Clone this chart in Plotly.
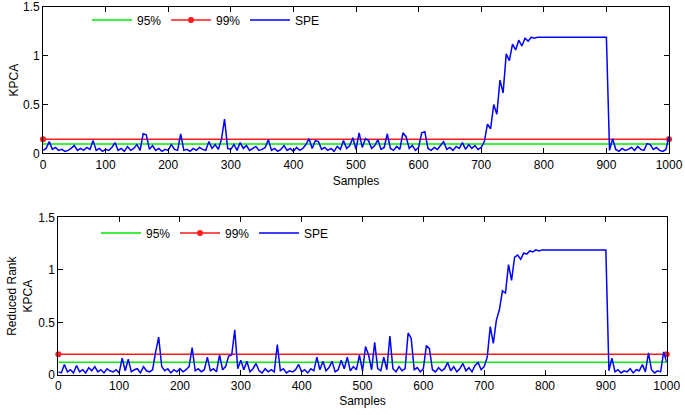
import plotly.graph_objects as go

# ---------------- data ----------------
samples = list(range(0, 1001, 5))

spe_kpca = [
    # 0-95
    0.03, 0.05, 0.12, 0.04, 0.06, 0.03, 0.04, 0.02, 0.03, 0.05, 0.08, 0.03, 0.05, 0.03, 0.06, 0.04, 0.13, 0.03, 0.05, 0.02,
    # 100-195
    0.04, 0.03, 0.06, 0.11, 0.03, 0.05, 0.02, 0.07, 0.03, 0.05, 0.09, 0.03, 0.20, 0.19, 0.04, 0.08, 0.03, 0.05, 0.02, 0.04,
    # 200-295
    0.03, 0.09, 0.04, 0.03, 0.20, 0.03, 0.04, 0.02, 0.05, 0.03, 0.06, 0.04, 0.03, 0.12, 0.05, 0.09, 0.04, 0.14, 0.35, 0.05,
    # 300-395
    0.04, 0.09, 0.03, 0.11, 0.05, 0.08, 0.03, 0.05, 0.07, 0.03, 0.04, 0.06, 0.14, 0.03, 0.05, 0.02, 0.04, 0.08, 0.03, 0.05,
    # 400-495
    0.02, 0.06, 0.03, 0.05, 0.09, 0.15, 0.05, 0.13, 0.12, 0.04, 0.06, 0.03, 0.05, 0.02, 0.07, 0.04, 0.13, 0.05, 0.08, 0.16,
    # 500-595
    0.04, 0.21, 0.06, 0.15, 0.13, 0.05, 0.08, 0.14, 0.04, 0.06, 0.20, 0.05, 0.03, 0.07, 0.04, 0.21, 0.17, 0.05, 0.08, 0.03,
    # 600-695
    0.06, 0.21, 0.22, 0.05, 0.03, 0.06, 0.04, 0.08, 0.12, 0.04, 0.06, 0.03, 0.07, 0.05, 0.11, 0.04, 0.09, 0.05, 0.08, 0.04,
    # 700-795
    0.06, 0.12, 0.30, 0.25, 0.50, 0.40, 0.75, 0.62, 1.02, 0.95, 1.12, 1.06, 1.16, 1.10, 1.18, 1.15, 1.19, 1.18, 1.19, 1.19,
    # 800-895
    1.19, 1.19, 1.19, 1.19, 1.19, 1.19, 1.19, 1.19, 1.19, 1.19, 1.19, 1.19, 1.19, 1.19, 1.19, 1.19, 1.19, 1.19, 1.19, 1.19,
    # 900-1000
    1.19, 0.03, 0.15, 0.04, 0.02, 0.05, 0.03, 0.04, 0.06, 0.03, 0.07, 0.04, 0.03, 0.10, 0.09, 0.04, 0.06, 0.03, 0.02, 0.04, 0.17,
]

spe_rrkpca = [
    # 0-95
    0.03, 0.02, 0.10, 0.03, 0.05, 0.02, 0.09, 0.03, 0.05, 0.02, 0.07, 0.04, 0.08, 0.03, 0.05, 0.02, 0.06, 0.04, 0.03, 0.05,
    # 100-195
    0.02, 0.16, 0.04, 0.15, 0.03, 0.05, 0.06, 0.02, 0.08, 0.04, 0.03, 0.05, 0.22, 0.36, 0.08, 0.04, 0.06, 0.02, 0.05, 0.03,
    # 200-295
    0.06, 0.03, 0.05, 0.08, 0.26, 0.04, 0.06, 0.03, 0.05, 0.17, 0.04, 0.06, 0.03, 0.19, 0.05, 0.08, 0.18, 0.19, 0.43, 0.06,
    # 300-395
    0.14, 0.05, 0.13, 0.03, 0.06, 0.11, 0.04, 0.02, 0.06, 0.03, 0.05, 0.03, 0.29, 0.04, 0.06, 0.02, 0.04, 0.03, 0.05, 0.10,
    # 400-495
    0.03, 0.05, 0.02, 0.06, 0.04, 0.17, 0.05, 0.13, 0.04, 0.07, 0.13, 0.03, 0.05, 0.14, 0.06, 0.17, 0.04, 0.08, 0.05, 0.19,
    # 500-595
    0.04, 0.27, 0.19, 0.05, 0.31, 0.06, 0.04, 0.17, 0.05, 0.37, 0.06, 0.03, 0.08, 0.04, 0.06, 0.40, 0.35, 0.05, 0.07, 0.03,
    # 600-695
    0.06, 0.28, 0.25, 0.05, 0.03, 0.07, 0.04, 0.06, 0.12, 0.04, 0.08, 0.03, 0.06, 0.11, 0.04, 0.07, 0.03, 0.09, 0.12, 0.05,
    # 700-795
    0.08, 0.17, 0.46, 0.30, 0.52, 0.62, 0.80, 0.78, 1.05, 0.90, 1.12, 1.14, 1.10, 1.16, 1.15, 1.18, 1.17, 1.19, 1.18, 1.19,
    # 800-895
    1.19, 1.19, 1.19, 1.19, 1.19, 1.19, 1.19, 1.19, 1.19, 1.19, 1.19, 1.19, 1.19, 1.19, 1.19, 1.19, 1.19, 1.19, 1.19, 1.19,
    # 900-1000
    1.19, 0.04, 0.16, 0.03, 0.05, 0.02, 0.04, 0.03, 0.06, 0.02, 0.05, 0.04, 0.10, 0.03, 0.21, 0.05, 0.02, 0.04, 0.03, 0.22, 0.12,
]

limit_x = [0, 1000]
kpca_95 = 0.095
kpca_99 = 0.143
rr_95 = 0.122
rr_99 = 0.197

x_ticks = [0, 100, 200, 300, 400, 500, 600, 700, 800, 900, 1000]
y_ticks = [0, 0.5, 1, 1.5]
y_tick_labels = ["0", "0.5", "1", "1.5"]

W, H = 685, 415
FONT = "Liberation Sans, Arial, sans-serif"
FS = 12

fig = go.Figure()

def add_panel(xa, ya, spe, l95, l99, legend):
    fig.add_trace(go.Scatter(x=limit_x, y=[l95, l95], mode="lines", name="95%",
                             line=dict(color="#00ee00", width=1.5),
                             xaxis=xa, yaxis=ya, legend=legend, showlegend=True))
    fig.add_trace(go.Scatter(x=limit_x, y=[l99, l99], mode="lines+markers", name="99%",
                             line=dict(color="#ff1a1a", width=1.5),
                             marker=dict(color="#ff1a1a", size=6),
                             cliponaxis=False,
                             xaxis=xa, yaxis=ya, legend=legend, showlegend=True))
    fig.add_trace(go.Scatter(x=samples, y=spe, mode="lines", name="SPE",
                             line=dict(color="#0000ff", width=1.5),
                             xaxis=xa, yaxis=ya, legend=legend, showlegend=True))

add_panel("x", "y", spe_kpca, kpca_95, kpca_99, "legend")
add_panel("x2", "y2", spe_rrkpca, rr_95, rr_99, "legend2")

axis_common = dict(
    showline=True, linecolor="black", linewidth=1, mirror="ticks",
    ticks="inside", ticklen=5, tickcolor="black", tickwidth=1,
    showgrid=False, zeroline=False, automargin=False,
    tickfont=dict(family=FONT, size=FS, color="black"),
)

fig.update_layout(
    width=W, height=H,
    margin=dict(l=0, r=0, t=0, b=0),
    paper_bgcolor="white", plot_bgcolor="white",
    font=dict(family=FONT, size=FS, color="black"),
    xaxis=dict(domain=[43 / W, 669 / W], range=[0, 1000], tickvals=x_ticks, anchor="y",
               title=dict(text="Samples", standoff=5, font=dict(size=FS)), **axis_common),
    yaxis=dict(domain=[(H - 153.3) / H, (H - 7) / H], range=[0, 1.5], tickvals=y_ticks,
               ticktext=y_tick_labels, anchor="x",
               title=dict(text="KPCA", standoff=1, font=dict(size=FS)), **axis_common),
    xaxis2=dict(domain=[58.3 / W, 666.7 / W], range=[0, 1000], tickvals=x_ticks, anchor="y2",
                title=dict(text="Samples", standoff=4, font=dict(size=FS)), **axis_common),
    yaxis2=dict(domain=[(H - 375) / H, (H - 217.3) / H], range=[0, 1.5], tickvals=y_ticks,
                ticktext=y_tick_labels, anchor="x2",
                title=dict(text="Reduced Rank<br>KPCA", standoff=3, font=dict(size=FS)), **axis_common),
    legend=dict(orientation="h", x=87 / W, y=(H - 20) / H, xanchor="left", yanchor="middle",
                bgcolor="rgba(0,0,0,0)", font=dict(family=FONT, size=FS),
                entrywidth=24, entrywidthmode="pixels", itemwidth=40),
    legend2=dict(orientation="h", x=96 / W, y=(H - 233) / H, xanchor="left", yanchor="middle",
                 bgcolor="rgba(0,0,0,0)", font=dict(family=FONT, size=FS),
                 entrywidth=24, entrywidthmode="pixels", itemwidth=40),
)

fig.write_html("out.html", config={"displayModeBar": False},
               post_script="document.body.style.margin='0';document.body.style.overflow='hidden';")
